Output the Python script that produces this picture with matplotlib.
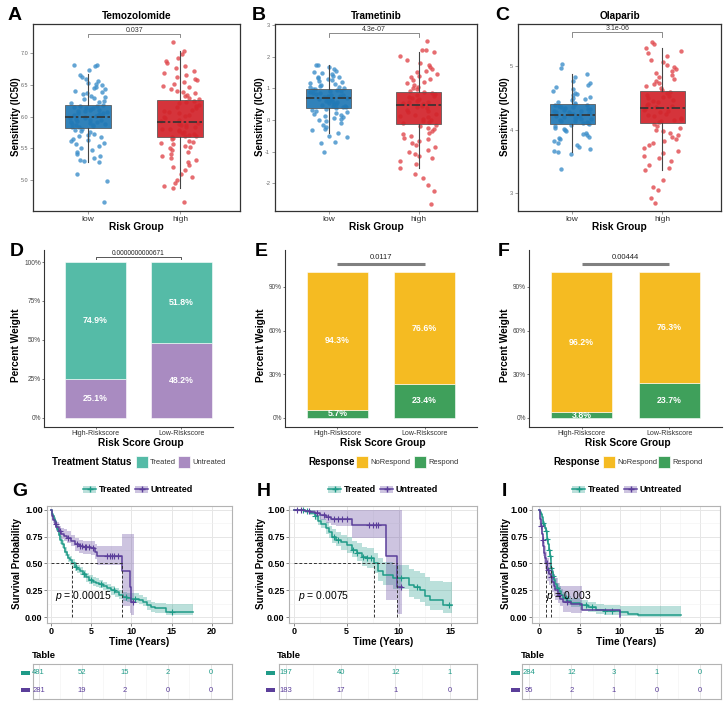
"""
Drug sensitivity, treatment response and survival figure (panels A-I).
Redraws the composite figure with matplotlib and saves it to out.png.
"""

import numpy as np
import matplotlib
matplotlib.use("Agg")
import matplotlib.pyplot as plt
from matplotlib.patches import Rectangle, Patch
from matplotlib.lines import Line2D


plt.rcParams["font.family"] = ["Liberation Sans", "DejaVu Sans"]
plt.rcParams["mathtext.fontset"] = "custom"
plt.rcParams["mathtext.it"] = "Liberation Sans:italic"
plt.rcParams["mathtext.rm"] = "Liberation Sans"

W, H = 728, 711

# ---------------- Row 1: IC50 per risk group ----------------
RISK_GROUPS = ["low", "high"]

A_LOW = [6.82, 6.82, 6.80, 6.74, 6.66, 6.63, 6.60, 6.56, 6.53, 6.51, 6.49, 6.47, 6.45, 6.43, 6.41, 6.39,
         6.37, 6.35, 6.33, 6.31, 6.29, 6.27, 6.25, 6.23, 6.21, 6.19, 6.17, 6.16, 6.15, 6.14, 6.13, 6.12,
         6.11, 6.10, 6.09, 6.08, 6.07, 6.06, 6.05, 6.04, 6.03, 6.02, 6.01, 5.99, 5.98, 5.97, 5.96, 5.95,
         5.94, 5.93, 5.92, 5.91, 5.90, 5.89, 5.88, 5.87, 5.86, 5.85, 5.84, 5.83, 5.81, 5.79, 5.77, 5.75,
         5.73, 5.71, 5.69, 5.67, 5.65, 5.63, 5.61, 5.58, 5.56, 5.53, 5.50, 5.47, 5.44, 5.41, 5.38, 5.35,
         5.32, 5.30, 5.28, 5.10, 4.98, 4.65]
A_HIGH = [7.18, 7.03, 6.99, 6.93, 6.88, 6.84, 6.80, 6.76, 6.72, 6.69, 6.66, 6.63, 6.60, 6.57, 6.54, 6.51,
          6.48, 6.46, 6.44, 6.41, 6.39, 6.37, 6.34, 6.32, 6.30, 6.28, 6.25, 6.23, 6.21, 6.19, 6.17, 6.15,
          6.13, 6.11, 6.09, 6.07, 6.05, 6.03, 6.01, 5.99, 5.97, 5.95, 5.93, 5.90, 5.89, 5.87, 5.86, 5.84,
          5.83, 5.81, 5.80, 5.78, 5.77, 5.75, 5.74, 5.72, 5.71, 5.70, 5.69, 5.68, 5.66, 5.64, 5.62, 5.60,
          5.58, 5.56, 5.54, 5.52, 5.50, 5.47, 5.44, 5.41, 5.38, 5.35, 5.32, 5.28, 5.24, 5.20, 5.15, 5.10,
          5.05, 5.00, 4.95, 4.91, 4.87, 4.65]
B_LOW = [1.75, 1.72, 1.68, 1.62, 1.56, 1.50, 1.47, 1.44, 1.40, 1.37, 1.34, 1.31, 1.28, 1.25, 1.22, 1.19,
         1.16, 1.13, 1.10, 1.08, 1.05, 1.03, 1.01, 0.99, 0.96, 0.94, 0.92, 0.90, 0.88, 0.86, 0.84, 0.82,
         0.80, 0.78, 0.76, 0.74, 0.72, 0.70, 0.69, 0.67, 0.65, 0.63, 0.61, 0.59, 0.57, 0.55, 0.53, 0.51,
         0.49, 0.47, 0.45, 0.43, 0.41, 0.40, 0.37, 0.34, 0.31, 0.28, 0.25, 0.22, 0.19, 0.16, 0.13, 0.10,
         0.07, 0.04, 0.00, -0.05, -0.10, -0.16, -0.22, -0.28, -0.33, -0.40, -0.50, -0.55, -0.70, -0.72, -1.00]
B_HIGH = [2.50, 2.22, 2.22, 2.13, 2.02, 1.90, 1.80, 1.72, 1.66, 1.60, 1.55, 1.50, 1.45, 1.40, 1.35, 1.30,
          1.25, 1.20, 1.15, 1.10, 1.05, 1.00, 0.96, 0.92, 0.89, 0.85, 0.82, 0.79, 0.76, 0.73, 0.70, 0.67,
          0.64, 0.61, 0.58, 0.55, 0.52, 0.49, 0.44, 0.40, 0.36, 0.32, 0.28, 0.24, 0.20, 0.16, 0.12, 0.08,
          0.04, 0.00, -0.04, -0.08, -0.11, -0.16, -0.20, -0.25, -0.30, -0.35, -0.40, -0.45, -0.50, -0.56,
          -0.62, -0.68, -0.74, -0.80, -0.87, -0.94, -1.01, -1.08, -1.15, -1.22, -1.30, -1.40, -1.52, -1.70,
          -1.85, -2.05, -2.25, -2.65]
C_LOW = [5.03, 4.97, 4.88, 4.82, 4.77, 4.73, 4.70, 4.67, 4.64, 4.61, 4.58, 4.56, 4.54, 4.52, 4.50, 4.48,
         4.46, 4.44, 4.42, 4.41, 4.39, 4.38, 4.37, 4.36, 4.35, 4.34, 4.33, 4.32, 4.31, 4.30, 4.29, 4.28,
         4.27, 4.26, 4.25, 4.24, 4.23, 4.22, 4.21, 4.20, 4.19, 4.18, 4.17, 4.16, 4.15, 4.14, 4.13, 4.12,
         4.11, 4.10, 4.09, 4.07, 4.05, 4.03, 4.01, 3.99, 3.97, 3.95, 3.93, 3.91, 3.89, 3.87, 3.85, 3.82,
         3.79, 3.76, 3.73, 3.70, 3.67, 3.65, 3.62, 3.38]
C_HIGH = [5.37, 5.35, 5.28, 5.24, 5.20, 5.15, 5.10, 5.06, 5.02, 4.98, 4.95, 4.92, 4.89, 4.86, 4.83, 4.80,
          4.77, 4.74, 4.71, 4.68, 4.65, 4.63, 4.59, 4.57, 4.55, 4.53, 4.51, 4.49, 4.47, 4.45, 4.43, 4.41,
          4.39, 4.37, 4.35, 4.33, 4.31, 4.29, 4.27, 4.25, 4.23, 4.21, 4.19, 4.17, 4.15, 4.13, 4.12, 4.09,
          4.06, 4.03, 4.00, 3.97, 3.94, 3.91, 3.88, 3.85, 3.82, 3.79, 3.75, 3.71, 3.67, 3.63, 3.59, 3.55,
          3.50, 3.45, 3.40, 3.37, 3.20, 3.10, 3.05, 2.93, 2.85]

# box statistics: whisker low, Q1, median, Q3, whisker high
A_LOW_BOX = [5.28, 5.82, 6.00, 6.18, 6.67]
A_HIGH_BOX = [4.87, 5.67, 5.91, 6.26, 7.03]
B_LOW_BOX = [-0.42, 0.39, 0.68, 0.97, 1.72]
B_HIGH_BOX = [-1.52, -0.13, 0.47, 0.87, 2.13]
C_LOW_BOX = [3.65, 4.08, 4.23, 4.40, 4.88]
C_HIGH_BOX = [3.37, 4.11, 4.34, 4.61, 5.28]

DRUGS = ["Temozolomide", "Trametinib", "Olaparib"]
DRUG_PVALUES = ["0.037", "4.3e-07", "3.1e-06"]

# ---------------- Row 2: stacked percentages ----------------
SCORE_GROUPS = ["High-Riskscore", "Low-Riskscore"]
D_UNTREATED = [25.1, 48.2]
D_TREATED = [74.9, 51.8]
E_RESPOND = [5.7, 23.4]
E_NORESPOND = [94.3, 76.6]
F_RESPOND = [3.8, 23.7]
F_NORESPOND = [96.2, 76.3]
BAR_PVALUES = ["0.0000000000671", "0.0117", "0.00444"]

# ---------------- Row 3: Kaplan-Meier curves ----------------
G_T_TIME = [0, 0.1, 0.2, 0.3, 0.4, 0.5, 0.6, 0.7, 0.8, 0.9, 1.0, 1.2, 1.4, 1.6, 1.8, 2.0, 2.2, 2.4, 2.7,
            3.0, 3.3, 3.6, 4.0, 4.4, 4.8, 5.2, 5.6, 6.0, 6.5, 7.0, 7.5, 8.0, 8.5, 9.0, 9.5, 10.0, 10.5,
            11.0, 11.5, 12.0, 12.5, 13.0, 14.3, 17.7]
G_T_SURV = [1.0, 0.98, 0.96, 0.94, 0.92, 0.90, 0.87, 0.85, 0.82, 0.80, 0.77, 0.72, 0.68, 0.64, 0.61, 0.58,
            0.55, 0.53, 0.50, 0.47, 0.45, 0.43, 0.40, 0.37, 0.35, 0.33, 0.32, 0.31, 0.29, 0.27, 0.25, 0.23,
            0.21, 0.19, 0.18, 0.17, 0.17, 0.16, 0.14, 0.11, 0.09, 0.08, 0.05, 0.05]
G_T_LO = [1.0, 0.97, 0.94, 0.92, 0.90, 0.87, 0.84, 0.82, 0.79, 0.76, 0.73, 0.68, 0.64, 0.60, 0.57, 0.54,
          0.51, 0.49, 0.46, 0.43, 0.41, 0.39, 0.36, 0.33, 0.31, 0.29, 0.28, 0.27, 0.25, 0.23, 0.21, 0.19,
          0.17, 0.15, 0.14, 0.13, 0.13, 0.12, 0.10, 0.07, 0.05, 0.04, 0.02, 0.02]
G_T_HI = [1.0, 0.99, 0.98, 0.96, 0.94, 0.93, 0.90, 0.88, 0.85, 0.83, 0.81, 0.76, 0.72, 0.68, 0.65, 0.62,
          0.59, 0.57, 0.54, 0.51, 0.49, 0.47, 0.44, 0.41, 0.39, 0.37, 0.36, 0.35, 0.33, 0.31, 0.29, 0.27,
          0.25, 0.23, 0.22, 0.22, 0.22, 0.21, 0.19, 0.16, 0.14, 0.13, 0.12, 0.12]
G_T_CENS = [3.2, 4.1, 5.0, 6.2, 7.8, 9.3, 10.4, 15.0]
G_U_TIME = [0, 0.1, 0.2, 0.3, 0.5, 0.7, 1.0, 1.3, 1.6, 2.0, 2.5, 3.0, 3.5, 4.0, 5.0, 5.5, 5.7, 8.8, 9.8,
            10.0, 10.3]
G_U_SURV = [1.0, 0.97, 0.94, 0.91, 0.87, 0.84, 0.80, 0.78, 0.76, 0.74, 0.71, 0.68, 0.66, 0.65, 0.64, 0.61,
            0.57, 0.43, 0.28, 0.14, 0.14]
G_U_LO = [1.0, 0.95, 0.91, 0.88, 0.83, 0.80, 0.75, 0.73, 0.71, 0.69, 0.66, 0.62, 0.60, 0.59, 0.58, 0.54,
          0.49, 0.10, 0.04, 0.02, 0.02]
G_U_HI = [1.0, 0.99, 0.97, 0.95, 0.91, 0.89, 0.85, 0.83, 0.82, 0.80, 0.77, 0.74, 0.72, 0.71, 0.71, 0.68,
          0.66, 0.78, 0.78, 0.78, 0.78]
G_U_CENS = [0.6, 1.2, 2.2, 3.3, 3.6, 3.9, 4.2, 4.4, 4.7, 5.2, 7.0, 7.3, 7.6, 7.9, 8.3, 10.2]
G_MEDIANS = [2.7, 8.8]
G_RISK_TIMES = [0, 5, 10, 15, 20]
G_T_RISK = [481, 52, 15, 2, 0]
G_U_RISK = [281, 19, 2, 0, 0]

H_T_TIME = [0, 1.0, 1.5, 2.0, 2.3, 2.6, 3.0, 3.3, 3.6, 4.0, 4.5, 5.0, 5.5, 6.0, 6.5, 7.0, 7.6, 8.0, 8.5,
            9.5, 11.0, 11.5, 12.0, 12.5, 13.0, 14.2, 15.1]
H_T_SURV = [1.0, 0.99, 0.97, 0.94, 0.90, 0.87, 0.83, 0.79, 0.75, 0.72, 0.70, 0.67, 0.63, 0.60, 0.56, 0.55,
            0.50, 0.43, 0.39, 0.36, 0.30, 0.28, 0.25, 0.20, 0.16, 0.11, 0.11]
H_T_LO = [1.0, 0.98, 0.95, 0.91, 0.86, 0.83, 0.78, 0.74, 0.69, 0.66, 0.63, 0.60, 0.56, 0.52, 0.48, 0.46,
          0.41, 0.34, 0.30, 0.26, 0.19, 0.17, 0.14, 0.10, 0.07, 0.04, 0.04]
H_T_HI = [1.0, 1.0, 1.0, 0.98, 0.95, 0.92, 0.89, 0.85, 0.82, 0.79, 0.77, 0.75, 0.71, 0.69, 0.65, 0.64,
          0.60, 0.55, 0.51, 0.49, 0.45, 0.43, 0.41, 0.37, 0.34, 0.33, 0.33]
H_T_CENS = [0.8, 1.2, 2.0, 3.8, 4.2, 5.6, 6.0, 6.6, 7.0, 7.3, 10.2, 11.8, 14.8]
H_U_TIME = [0, 1.0, 1.5, 2.0, 2.5, 3.0, 3.5, 4.0, 5.5, 8.8, 9.8, 10.3]
H_U_SURV = [1.0, 0.99, 0.98, 0.97, 0.95, 0.93, 0.92, 0.92, 0.86, 0.57, 0.28, 0.28]
H_U_LO = [1.0, 0.97, 0.96, 0.94, 0.91, 0.88, 0.86, 0.85, 0.74, 0.16, 0.03, 0.03]
H_U_HI = [1.0, 1.0, 1.0, 1.0, 1.0, 1.0, 1.0, 1.0, 1.0, 1.0, 1.0, 1.0]
H_U_CENS = [0.3, 0.6, 1.4, 2.2, 2.8, 3.2, 3.8, 4.2, 4.6, 5.0, 7.2, 7.5, 7.8, 8.0, 10.2]
H_MEDIANS = [7.6, 9.8]
H_RISK_TIMES = [0, 5, 10, 15]
H_T_RISK = [197, 40, 12, 1]
H_U_RISK = [183, 17, 1, 0]

I_T_TIME = [0, 0.1, 0.2, 0.3, 0.4, 0.5, 0.6, 0.7, 0.8, 0.9, 1.0, 1.1, 1.2, 1.3, 1.4, 1.5, 1.6, 1.7, 1.8,
            2.0, 2.2, 2.4, 2.7, 3.0, 3.5, 4.0, 5.0, 6.0, 7.0, 8.0, 10.0, 11.0, 12.3, 17.6]
I_T_SURV = [1.0, 0.98, 0.96, 0.93, 0.90, 0.88, 0.86, 0.83, 0.80, 0.77, 0.73, 0.68, 0.63, 0.57, 0.50, 0.46,
            0.42, 0.38, 0.35, 0.31, 0.27, 0.24, 0.21, 0.18, 0.15, 0.13, 0.11, 0.09, 0.07, 0.06, 0.05, 0.03,
            0.02, 0.02]
I_T_LO = [1.0, 0.96, 0.94, 0.90, 0.87, 0.84, 0.82, 0.79, 0.76, 0.72, 0.68, 0.63, 0.58, 0.52, 0.45, 0.41,
          0.37, 0.33, 0.30, 0.26, 0.22, 0.19, 0.16, 0.13, 0.11, 0.09, 0.07, 0.05, 0.03, 0.02, 0.01, 0.005,
          0.0, 0.0]
I_T_HI = [1.0, 1.0, 0.98, 0.96, 0.93, 0.92, 0.90, 0.87, 0.84, 0.82, 0.78, 0.73, 0.68, 0.62, 0.55, 0.51,
          0.47, 0.43, 0.40, 0.36, 0.32, 0.29, 0.26, 0.23, 0.20, 0.18, 0.16, 0.14, 0.12, 0.11, 0.10, 0.10,
          0.10, 0.10]
I_T_CENS = [0.5, 0.8, 1.0, 1.2, 1.3, 1.5, 1.7, 2.2, 3.3, 5.8, 6.5, 8.2, 9.0]
I_U_TIME = [0, 0.1, 0.2, 0.3, 0.4, 0.5, 0.6, 0.7, 0.8, 1.0, 1.2, 1.4, 1.6, 1.8, 2.0, 2.3, 2.6, 3.0, 4.0,
            5.3, 10.1]
I_U_SURV = [1.0, 0.92, 0.85, 0.78, 0.72, 0.66, 0.60, 0.55, 0.50, 0.44, 0.40, 0.37, 0.33, 0.29, 0.25, 0.21,
            0.17, 0.14, 0.12, 0.07, 0.0]
I_U_LO = [1.0, 0.86, 0.78, 0.70, 0.63, 0.57, 0.50, 0.45, 0.40, 0.34, 0.30, 0.27, 0.23, 0.20, 0.16, 0.13,
          0.10, 0.05, 0.04, 0.04, np.nan]
I_U_HI = [1.0, 0.98, 0.93, 0.87, 0.82, 0.76, 0.70, 0.66, 0.61, 0.55, 0.51, 0.48, 0.44, 0.40, 0.36, 0.32,
          0.29, 0.29, 0.29, 0.29, np.nan]
I_U_CENS = [0.2, 0.4, 0.9, 1.1, 1.5, 2.4, 3.5]
I_MEDIANS = [0.85, 1.4]
I_RISK_TIMES = [0, 5, 10, 15, 20]
I_T_RISK = [284, 12, 3, 1, 0]
I_U_RISK = [95, 2, 1, 0, 0]

KM_PVALUES = ["0.00015", "0.0075", "0.003"]

# colours
BLUE, BLUE_PT = "#1f77b4", "#3d8fca"
RED, RED_PT = "#d2232a", "#e0484d"
TEAL_BAR, PURPLE_BAR = "#55bba7", "#a98bc1"
YELLOW, GREEN = "#f5bb22", "#3fa05b"
TEAL, PURPLE = "#1f9b88", "#5b3e9a"


# Add axes given pixel edges of the 728x711 canvas
def px_axes(fig, left, top, right, bottom):
    return fig.add_axes([left / W, 1 - bottom / H, (right - left) / W, (bottom - top) / H])


# Put text on the figure at pixel coordinates
def px_text(fig, x, y, s, **kw):
    return fig.text(x / W, 1 - y / H, s, **kw)


# Deterministic jitter offsets in [-0.5, 0.5) (a hash of the point index, no RNG)
def jitter_offsets(n, salt):
    idx = np.arange(n, dtype=float)
    h = np.sin(idx * 12.9898 + salt * 78.233) * 43758.5453
    return h - np.floor(h) - 0.5


# Draw one jitter + boxplot panel
def draw_drug_panel(ax, low_vals, high_vals, low_box, high_box, ylim, yticks, pval, bracket_y, drop):
    for pos, vals, box, pt_col, box_col in [(1, low_vals, low_box, BLUE_PT, BLUE),
                                           (2, high_vals, high_box, RED_PT, RED)]:
        offs = jitter_offsets(len(vals), pos + len(vals))
        ax.scatter(pos + offs * 0.42, vals, s=10, color=pt_col, alpha=0.8, linewidths=0, zorder=2)
        stats = [dict(whislo=box[0], q1=box[1], med=box[2], q3=box[3], whishi=box[4], fliers=[])]
        ax.bxp(stats, positions=[pos], widths=0.5, patch_artist=True, showcaps=False,
               boxprops=dict(facecolor=box_col, edgecolor="#555555", linewidth=0.6, alpha=0.92),
               whiskerprops=dict(color="#444444", linewidth=0.8),
               medianprops=dict(color="#333333", linewidth=1.2, linestyle=(0, (5, 1.5, 1.5, 1.5))),
               zorder=3)
    ax.plot([1, 1, 2, 2], [bracket_y - drop, bracket_y, bracket_y, bracket_y - drop],
            color="#777777", linewidth=0.6)
    ax.text(1.5, bracket_y, pval, ha="center", va="bottom", fontsize=5, color="#333333")
    ax.set_xlim(0.4, 2.65)
    ax.set_ylim(*ylim)
    ax.set_xticks([1, 2])
    ax.set_xticklabels(RISK_GROUPS, fontsize=6, color="#333333")
    ax.set_yticks(yticks)
    ax.set_yticklabels([str(v) for v in yticks], fontsize=4, color="#666666")
    ax.tick_params(length=2, width=0.5, color="#777777", pad=1.5)
    for sp in ax.spines.values():
        sp.set_color("#333333")
        sp.set_linewidth(0.9)


# Draw one stacked percentage bar panel
def draw_bar_panel(ax, bottom_vals, top_vals, bottom_col, top_col, ylim, yticks, pval, bracket_y, thick):
    x = np.arange(1, len(SCORE_GROUPS) + 1)
    ax.bar(x, bottom_vals, width=0.7, color=bottom_col, edgecolor="white", linewidth=0.4)
    ax.bar(x, top_vals, bottom=bottom_vals, width=0.7, color=top_col, edgecolor="white", linewidth=0.4)
    for xi, b, t in zip(x, bottom_vals, top_vals):
        ax.text(xi, b / 2, f"{b}%", ha="center", va="center", fontsize=6.3, color="white", fontweight="bold")
        ax.text(xi, b + t / 2, f"{t}%", ha="center", va="center", fontsize=6.3, color="white",
                fontweight="bold")
    if thick:
        ax.plot([1, 2], [bracket_y, bracket_y], color="#808080", linewidth=2.2, solid_capstyle="butt")
        ax.text(1.5, bracket_y + 2.2, pval, ha="center", va="bottom", fontsize=5.5, color="#222222")
    else:
        ax.plot([1, 1, 2, 2], [bracket_y - 1.5, bracket_y, bracket_y, bracket_y - 1.5],
                color="#555555", linewidth=0.7)
        ax.text(1.5, bracket_y + 0.3, pval, ha="center", va="bottom", fontsize=4.8, color="#222222")
    ax.set_xlim(0.4, 2.6)
    ax.set_ylim(*ylim)
    ax.set_xticks(x)
    ax.set_xticklabels(SCORE_GROUPS, fontsize=5, color="#333333")
    ax.set_yticks(yticks)
    ax.set_yticklabels([f"{v}%" for v in yticks], fontsize=4.7, color="#444444")
    ax.tick_params(length=1.5, width=0.5, color="#444444", pad=0.8)
    for side in ["top", "right"]:
        ax.spines[side].set_visible(False)
    for side in ["left", "bottom"]:
        ax.spines[side].set_color("#333333")
        ax.spines[side].set_linewidth(0.8)


# Draw a manual ggplot-style horizontal legend
def draw_bar_legend(fig, title, title_x, items, y):
    px_text(fig, title_x, y, title, fontsize=7, fontweight="bold", ha="left", va="center")
    for label, col, sx in items:
        fig.add_artist(Rectangle((sx / W, 1 - (y + 6) / H), 12 / W, 12 / H,
                                 transform=fig.transFigure, facecolor=col, edgecolor="white", linewidth=0.5))
        px_text(fig, sx + 14, y, label, fontsize=5.4, ha="left", va="center", color="#333333")


# Draw one survival curve with its confidence band and censor marks
def draw_km_curve(ax, times, surv, lo, hi, cens, color):
    t = np.array(times, dtype=float)
    lo = np.array(lo, dtype=float)
    hi = np.array(hi, dtype=float)
    ok = ~np.isnan(lo)
    ax.fill_between(t[ok], lo[ok], hi[ok], step="post", color=color, alpha=0.3, linewidth=0)
    ax.step(t, surv, where="post", color=color, linewidth=1.1)
    cy = [surv[np.searchsorted(t, c, side="right") - 1] for c in cens]
    ax.plot(cens, cy, linestyle="none", marker="+", color=color, markersize=4, markeredgewidth=0.8)


# Style the survival axes like survminer
def style_km_axes(ax, xlim, xticks, medians, pval, ptext_x):
    ax.plot([0, max(medians)], [0.5, 0.5], color="#333333", linestyle=(0, (3, 2)), linewidth=0.7)
    for m in medians:
        ax.plot([m, m], [0, 0.5], color="#333333", linestyle=(0, (3, 2)), linewidth=0.7)
    ax.text(ptext_x, 0.2, "$p$ = " + pval, fontsize=7.5, ha="left", va="center")
    ax.set_xlim(*xlim)
    ax.set_ylim(-0.056, 1.037)
    ax.set_xticks(xticks)
    ax.set_xticks([v + 2.5 for v in xticks], minor=True)
    ax.set_yticks([0, 0.25, 0.5, 0.75, 1.0])
    ax.set_yticks([0.125, 0.375, 0.625, 0.875], minor=True)
    ax.set_yticklabels(["0.00", "0.25", "0.50", "0.75", "1.00"], fontsize=6.5, fontweight="bold")
    ax.set_xticklabels([str(v) for v in xticks], fontsize=6.5, fontweight="bold")
    ax.grid(which="major", color="#e6e6e6", linewidth=0.7)
    ax.grid(which="minor", color="#f2f2f2", linewidth=0.4)
    ax.set_axisbelow(True)
    ax.tick_params(which="major", length=2, width=0.5, color="#555555", pad=1.2)
    ax.tick_params(which="minor", length=0)
    for sp in ax.spines.values():
        sp.set_color("#b3b3b3")
        sp.set_linewidth(0.8)


# Draw the number-at-risk table under a survival plot
def draw_risk_table(fig, ax, times, treated, untreated, xlim, rect_x):
    for t, a, b in zip(times, treated, untreated):
        ax.text(t, 2, str(a), ha="center", va="center", fontsize=5.5, color=TEAL)
        ax.text(t, 1, str(b), ha="center", va="center", fontsize=5.5, color=PURPLE)
    ax.set_xlim(*xlim)
    ax.set_ylim(0.5, 2.5)
    ax.set_xticks(times)
    ax.set_xticks([v + 2.5 for v in times], minor=True)
    ax.set_yticks([])
    ax.tick_params(which="both", length=0, labelbottom=False)
    ax.grid(axis="x", which="major", color="#e6e6e6", linewidth=0.7)
    ax.grid(axis="x", which="minor", color="#f2f2f2", linewidth=0.4)
    for sp in ax.spines.values():
        sp.set_color("#b3b3b3")
        sp.set_linewidth(0.8)
    pos = ax.get_position()
    row_h = pos.height / 2
    for row, col in [(2, TEAL), (1, PURPLE)]:
        yc = pos.y0 + (row - 0.5) * row_h
        fig.add_artist(Rectangle((rect_x / W, yc - 2 / H), 9 / W, 4 / H, transform=fig.transFigure,
                                 facecolor=col, edgecolor="none"))


# Legend with line + cross keys above the survival plot
def draw_km_legend(fig, cx, y):
    handles = [(Patch(facecolor=col, alpha=0.3, edgecolor="none"),
                Line2D([], [], color=col, marker="+", linewidth=1.1, markersize=5)) for col in [TEAL, PURPLE]]
    fig.legend(handles, ["Treated", "Untreated"], loc="center", bbox_to_anchor=(cx / W, 1 - y / H),
               ncol=2, frameon=False, handlelength=1.4, handletextpad=0.3, columnspacing=0.5,
               prop={"size": 6.5, "weight": "bold"})


def main() -> None:
    fig = plt.figure(figsize=(W / 100, H / 100), dpi=100)

    # ---- row 1 ----
    box_specs = [
        ("A", 8, (33, 240), A_LOW, A_HIGH, A_LOW_BOX, A_HIGH_BOX, (4.51, 7.46), [5.0, 5.5, 6.0, 6.5, 7.0], 7.31, 0.06, 16),
        ("B", 252, (275, 477), B_LOW, B_HIGH, B_LOW_BOX, B_HIGH_BOX, (-2.88, 3.03), [-2, -1, 0, 1, 2, 3], 2.74, 0.13, 260),
        ("C", 495, (518, 721), C_LOW, C_HIGH, C_LOW_BOX, C_HIGH_BOX, (2.72, 5.66), [3, 4, 5], 5.53, 0.07, 505),
    ]
    for i, (lab, lab_x, (l, r), lo_v, hi_v, lo_b, hi_b, ylim, yt, by, drop, ylab_x) in enumerate(box_specs):
        ax = px_axes(fig, l, 24, r, 211)
        draw_drug_panel(ax, lo_v, hi_v, lo_b, hi_b, ylim, yt, DRUG_PVALUES[i], by, drop)
        px_text(fig, lab_x, 15, lab, fontsize=14, fontweight="bold", ha="left", va="center")
        px_text(fig, (l + r) / 2, 16, DRUGS[i], fontsize=7.2, fontweight="bold", ha="center", va="center")
        px_text(fig, (l + r) / 2, 227, "Risk Group", fontsize=7.3, fontweight="bold", ha="center", va="center")
        px_text(fig, ylab_x, 117, "Sensitivity (IC50)", fontsize=7, fontweight="bold", rotation=90,
                ha="center", va="center")

    # ---- row 2 ----
    bar_specs = [
        ("D", 10, (44, 233), D_UNTREATED, D_TREATED, PURPLE_BAR, TEAL_BAR, (-5.8, 107.7), [0, 25, 50, 75, 100], 103.2, False, 16),
        ("E", 255, (285, 477), E_RESPOND, E_NORESPOND, GREEN, YELLOW, (-6.2, 115.3), [0, 30, 60, 90], 105.7, True, 261),
        ("F", 498, (529, 722), F_RESPOND, F_NORESPOND, GREEN, YELLOW, (-6.2, 115.3), [0, 30, 60, 90], 105.7, True, 505),
    ]
    for i, (lab, lab_x, (l, r), bot, top, bcol, tcol, ylim, yt, by, thick, ylab_x) in enumerate(bar_specs):
        ax = px_axes(fig, l, 250, r, 427)
        draw_bar_panel(ax, bot, top, bcol, tcol, ylim, yt, BAR_PVALUES[i], by, thick)
        px_text(fig, lab_x, 252, lab, fontsize=14, fontweight="bold", ha="left", va="center")
        px_text(fig, (l + r) / 2 + 2, 443, "Risk Score Group", fontsize=7.3, fontweight="bold",
                ha="center", va="center")
        px_text(fig, ylab_x, 345, "Percent Weight", fontsize=7.3, fontweight="bold", rotation=90,
                ha="center", va="center")

    draw_bar_legend(fig, "Treatment Status", 52, [("Treated", TEAL_BAR, 136), ("Untreated", PURPLE_BAR, 178)], 462)
    draw_bar_legend(fig, "Response", 308, [("NoRespond", YELLOW, 356), ("Respond", GREEN, 414)], 462)
    draw_bar_legend(fig, "Response", 553, [("NoRespond", YELLOW, 603), ("Respond", GREEN, 658)], 462)

    # ---- row 3 ----
    km_specs = [
        ("G", 12, (47, 232), (-0.46, 20.9), [0, 5, 10, 15, 20],
         (G_T_TIME, G_T_SURV, G_T_LO, G_T_HI, G_T_CENS), (G_U_TIME, G_U_SURV, G_U_LO, G_U_HI, G_U_CENS),
         G_MEDIANS, 0.5, (33, 232), (-0.65, 20.98), G_RISK_TIMES, G_T_RISK, G_U_RISK, 21, 17, 32, 138),
        ("H", 257, (289, 477), (-0.51, 15.6), [0, 5, 10, 15],
         (H_T_TIME, H_T_SURV, H_T_LO, H_T_HI, H_T_CENS), (H_U_TIME, H_U_SURV, H_U_LO, H_U_HI, H_U_CENS),
         H_MEDIANS, 0.4, (279, 477), (-0.66, 15.75), H_RISK_TIMES, H_T_RISK, H_U_RISK, 266, 261, 277, 383),
        ("I", 502, (532, 720), (-0.92, 20.8), [0, 5, 10, 15, 20],
         (I_T_TIME, I_T_SURV, I_T_LO, I_T_HI, I_T_CENS), (I_U_TIME, I_U_SURV, I_U_LO, I_U_HI, I_U_CENS),
         I_MEDIANS, 0.8, (522, 721), (-0.76, 20.87), I_RISK_TIMES, I_T_RISK, I_U_RISK, 511, 506, 521, 627),
    ]
    for i, spec in enumerate(km_specs):
        (lab, lab_x, (l, r), xlim, xt, treated, untreated, medians, ptx,
         (tl, tr), txlim, rtimes, trisk, urisk, rect_x, ylab_x, table_x, leg_x) = spec
        ax = px_axes(fig, l, 506, r, 623)
        draw_km_curve(ax, *treated, TEAL)
        draw_km_curve(ax, *untreated, PURPLE)
        style_km_axes(ax, xlim, xt, medians, KM_PVALUES[i], ptx)
        draw_km_legend(fig, leg_x, 490)
        px_text(fig, lab_x, 492, lab, fontsize=14, fontweight="bold", ha="left", va="center")
        px_text(fig, (l + r) / 2, 642, "Time (Years)", fontsize=7.3, fontweight="bold", ha="center", va="center")
        px_text(fig, ylab_x, 564, "Survival Probability", fontsize=7, fontweight="bold", rotation=90,
                ha="center", va="center")
        px_text(fig, table_x, 656, "Table", fontsize=6.8, fontweight="bold", ha="left", va="center")
        tax = px_axes(fig, tl, 664, tr, 699)
        draw_risk_table(fig, tax, rtimes, trisk, urisk, txlim, rect_x)

    fig.savefig("out.png", dpi=100)
    plt.close(fig)


if __name__ == "__main__":
    main()
